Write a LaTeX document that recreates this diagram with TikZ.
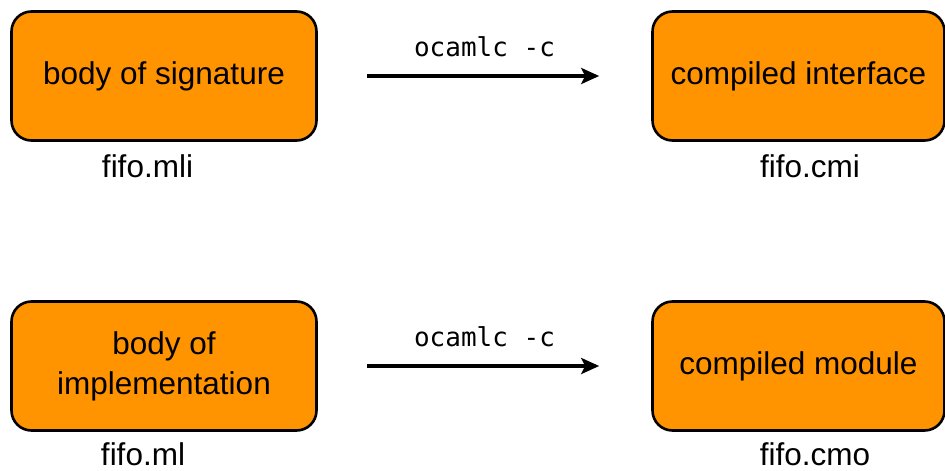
\documentclass[tikz,border=0pt]{standalone}
\usepackage{fontspec}
\setmainfont{Liberation Sans}
\newfontfamily\codefont{DejaVu Sans Mono}
\usetikzlibrary{arrows.meta}
\definecolor{boxorange}{RGB}{255,147,0}
\tikzset{
  filebox/.style={draw=black, line width=2.6pt, fill=boxorange, rounded corners=20pt,
    minimum height=129pt, inner sep=0pt, align=center, font=\fontsize{31.5}{40}\selectfont},
  fname/.style={font=\fontsize{31.5}{38}\selectfont, inner sep=0pt},
  compile/.style={line width=3.6pt, -{Stealth[length=18pt,width=16pt,inset=4pt]}},
  cmd/.style={font=\codefont\fontsize{26}{30}\selectfont, inner sep=0pt}
}
\begin{document}
\begin{tikzpicture}[x=1pt,y=-1pt]
\useasboundingbox (0,0) rectangle (945,471);
\node[filebox, minimum width=305pt] (sig) at (164,76) {\raisebox{-2pt}{body of signature}};
\node[filebox, minimum width=292pt] (cmi) at (798.5,76) {\raisebox{-2pt}{compiled interface}};
\node[filebox, minimum width=305pt] (impl) at (164,366) {\raisebox{-2pt}{body of}\\\raisebox{-2pt}{implementation}};
\node[filebox, minimum width=292pt] (cmo) at (798.5,366) {\raisebox{-2pt}{compiled module}};
\node[fname] (lmli) at (147.5,166) {fifo.mli};
\node[fname] (lcmi) at (810,166) {fifo.cmi};
\node[fname] (lml) at (143,454) {fifo.ml};
\node[fname] (lcmo) at (815,454) {fifo.cmo};
\draw[compile, shorten <=49pt, shorten >=52pt] (sig) -- node[cmd, midway, yshift=29pt] (c1) {ocamlc -c} (cmi);
\draw[compile, shorten <=49pt, shorten >=52pt] (impl) -- node[cmd, midway, yshift=29pt] (c2) {ocamlc -c} (cmo);
\end{tikzpicture}
\end{document}
